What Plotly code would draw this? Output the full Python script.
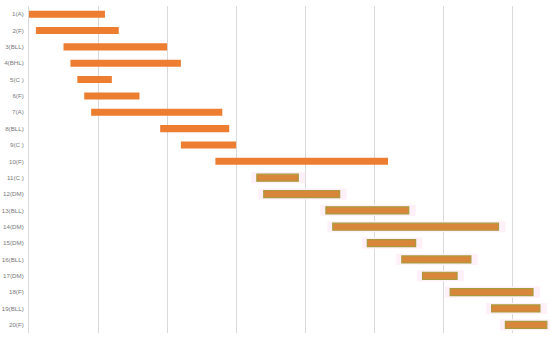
import plotly.graph_objects as go

tasks = ["1(A)", "2(F)", "3(BLL)", "4(BHL)", "5(C )", "6(F)", "7(A)", "8(BLL)", "9(C )", "10(F)",
         "11(C )", "12(DM)", "13(BLL)", "14(DM)", "15(DM)", "16(BLL)", "17(DM)", "18(F)", "19(BLL)", "20(F)"]
starts = [0, 1, 5, 6, 7, 8, 9, 19, 22, 27, 33, 34, 43, 44, 49, 54, 57, 61, 67, 69]
durations = [11, 12, 15, 16, 5, 8, 19, 10, 8, 25, 6, 11, 12, 24, 7, 10, 5, 12, 7, 6]

first = slice(0, 10)
second = slice(10, 20)

fig = go.Figure()

# first group: plain orange bars
fig.add_trace(go.Bar(
    y=tasks[first], x=durations[first], base=starts[first], orientation="h",
    marker=dict(color="#ED7D31", line=dict(width=0)), width=0.43, showlegend=False))

# second group: pink halo behind
fig.add_trace(go.Bar(
    y=tasks[second], x=[d + 1.8 for d in durations[second]], base=[s - 0.8 for s in starts[second]],
    orientation="h", marker=dict(color="#FEF0F8", line=dict(width=0)), width=0.68, showlegend=False))
# olive-bordered orange bars
fig.add_trace(go.Bar(
    y=tasks[second], x=durations[second], base=starts[second], orientation="h",
    marker=dict(color="#D8873A", line=dict(color="#A89A3C", width=1.2)), width=0.43, showlegend=False))

fig.update_layout(
    width=550, height=339,
    margin=dict(l=29, r=0, t=6, b=6),
    paper_bgcolor="white", plot_bgcolor="white",
    barmode="overlay",
    font=dict(family="Liberation Sans, Arial, sans-serif", size=6.2, color="#7A7A7A"),
)
fig.update_xaxes(range=[0, 75.46], dtick=10, tick0=0, showticklabels=False, automargin=False,
                 showgrid=True, gridcolor="#D9D9D9", gridwidth=1, zeroline=False)
fig.update_yaxes(categoryorder="array", categoryarray=tasks, autorange="reversed", automargin=False,
                 showgrid=False, showline=True, linecolor="#D9D9D9", linewidth=1,
                 ticks="", ticklabelstandoff=3, tickfont=dict(size=6.2, color="#7A7A7A"))

fig.write_html("out.html", post_script="document.body.style.margin='0';",
               config={"displayModeBar": False})
